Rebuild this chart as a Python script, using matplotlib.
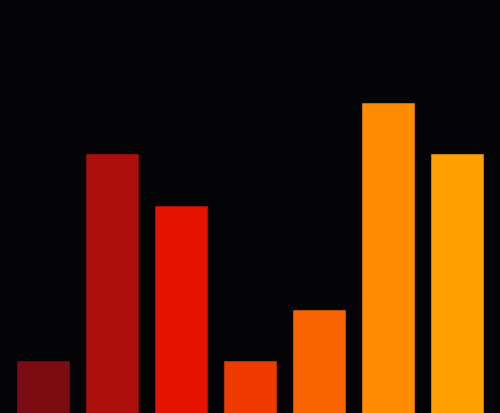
import matplotlib
matplotlib.use("Agg")
import matplotlib.pyplot as plt

BG = "#040305"

categories = ["A", "B", "C", "D", "E", "F", "G"]
values = [1, 5, 4, 1, 2, 6, 5]
colors = ["#7d0c12", "#ac0f09", "#e31300", "#ef3a00", "#f96400", "#ff8c00", "#ffa000"]
edges = ["#6e0a10", "#9a0d08", "#cc1100", "#d83400", "#e05a00", "#e67e00", "#e69000"]

fig = plt.figure(figsize=(5.0, 4.14), dpi=100, facecolor=BG)
ax = fig.add_axes([0, 0, 1, 1], facecolor=BG)

x = range(len(categories))
ax.bar(x, values, width=0.745, color=colors, edgecolor=edges, linewidth=0.5)

ax.set_xlim(-0.623, 6.623)
ax.set_ylim(0, 8)
ax.axis("off")

fig.savefig("out.png", dpi=100, facecolor=BG)
